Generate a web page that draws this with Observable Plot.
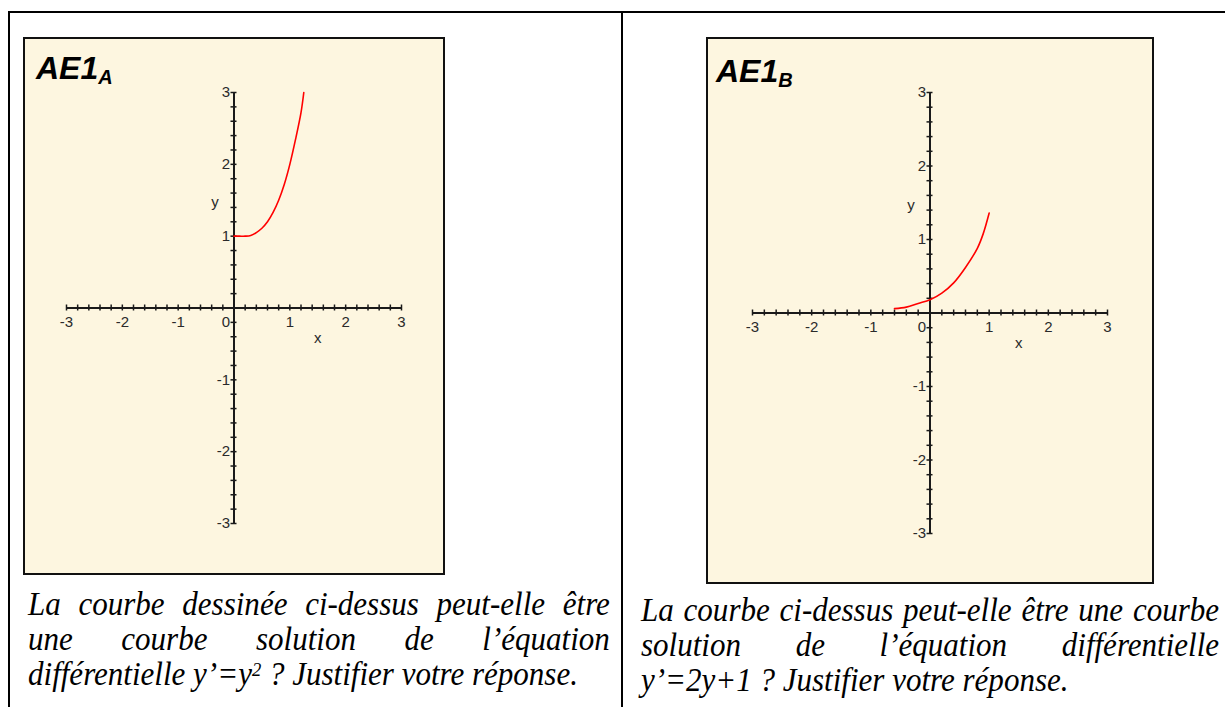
<!DOCTYPE html>
<html>
<head>
<meta charset="utf-8">
<script src="https://cdn.jsdelivr.net/npm/d3@7"></script>
<script src="https://cdn.jsdelivr.net/npm/@observablehq/plot@0.6"></script>
<style>
  html, body { margin: 0; padding: 0; background: #fff; }
  #page { position: relative; width: 1225px; height: 707px; overflow: hidden; background: #fff; }
  .hline, .vline { position: absolute; background: #000; }
  .box { position: absolute; background: #FDF6E0; border: 2px solid #111; box-sizing: border-box; }
  .box svg { position: absolute; left: 0; top: 0; }
  .title { position: absolute; font-family: "Liberation Sans", Arial, sans-serif; font-weight: bold; font-style: italic;
           font-size: 32px; line-height: 32px; color: #000; white-space: nowrap; }
  .title sub { font-size: 20px; vertical-align: baseline; position: relative; top: 5px; }
  .para { position: absolute; font-family: "Liberation Serif", "Times New Roman", serif; font-style: italic;
          font-size: 33px; color: #000; transform: scaleX(0.94); transform-origin: 0 0; }
  .para .ln { height: 35px; line-height: 35px; white-space: nowrap; text-align: justify; text-align-last: justify; }
  .para .ln.last { text-align: left; text-align-last: left; }
  .para sup { font-size: 0.6em; vertical-align: baseline; position: relative; top: -0.45em; }
</style>
</head>
<body>
<div id="page">
  <div class="hline" style="left:8px; top:11px; width:1217px; height:2px;"></div>
  <div class="vline" style="left:8px; top:11px; width:2px; height:700px;"></div>
  <div class="vline" style="left:621px; top:11px; width:2px; height:700px;"></div>

  <div class="box" id="boxA" style="left:23px; top:37px; width:422px; height:538px;">
    <div class="title" style="left:11px; top:13px;">AE1<sub>A</sub></div>
  </div>
  <div class="box" id="boxB" style="left:706px; top:37px; width:448px; height:547px;">
    <div class="title" style="left:8px; top:16px;">AE1<sub>B</sub></div>
  </div>

  <div class="para" style="left:28px; top:587px; width:619px;">
    <div class="ln">La courbe dessinée ci-dessus peut-elle être</div>
    <div class="ln">une courbe solution de l’équation</div>
    <div class="ln last">différentielle y’=y<sup>2</sup> ? Justifier votre réponse.</div>
  </div>
  <div class="para" style="left:641px; top:593px; width:615px;">
    <div class="ln">La courbe ci-dessus peut-elle être une courbe</div>
    <div class="ln">solution de l’équation différentielle</div>
    <div class="ln last">y’=2y+1 ? Justifier votre réponse.</div>
  </div>
</div>

<script>
// ---- data ----
const axisDomain = [-3, 3];
const majorTicks = [-3, -2, -1, 0, 1, 2, 3];
const tickLabels = ["-3", "-2", "-1", "0", "1", "2", "3"];
const minorStep = 0.2;

// Panel A: curve
const curveA_x = [0, 0.1, 0.2, 0.3, 0.4, 0.5, 0.6, 0.7, 0.8, 0.9, 1.0, 1.1, 1.2, 1.25];
const curveA_y = [1.0, 1.0, 1.0, 1.01, 1.05, 1.11, 1.2, 1.33, 1.5, 1.72, 2.0, 2.34, 2.72, 3.0];

// Panel B: curve
const curveB_x = [-0.6, -0.4, -0.2, 0, 0.2, 0.4, 0.6, 0.8, 0.9, 1.0];
const curveB_y = [0.06, 0.08, 0.13, 0.18, 0.27, 0.41, 0.62, 0.88, 1.08, 1.36];

// ---- drawing ----
function minorTicks() {
  const n = Math.round((axisDomain[1] - axisDomain[0]) / minorStep);
  return d3.range(n + 1).map(i => +(axisDomain[0] + i * minorStep).toFixed(6));
}

function panel({width, height, mL, mR, mT, mB, xs, ys}) {
  const kx = (width - mL - mR) / (axisDomain[1] - axisDomain[0]);
  const ky = (height - mT - mB) / (axisDomain[1] - axisDomain[0]);
  const th = 3; // tick half length (px)
  const ink = "#1a1a1a";
  const lab = "#2a2a2a";
  const fs = 15;
  const ticks = minorTicks();
  const data = xs.map((x, i) => ({x, y: ys[i]}));
  const labels = majorTicks.map((v, i) => ({v, t: tickLabels[i]}));
  return Plot.plot({
    width, height,
    marginLeft: mL, marginRight: mR, marginTop: mT, marginBottom: mB,
    x: {domain: axisDomain, axis: null},
    y: {domain: axisDomain, axis: null},
    style: {background: "transparent", fontFamily: "Liberation Sans, Arial, sans-serif", fontSize: "15px", color: lab},
    marks: [
      Plot.ruleY([0], {x1: axisDomain[0], x2: axisDomain[1], stroke: ink, strokeWidth: 2}),
      Plot.ruleX([0], {y1: axisDomain[0], y2: axisDomain[1], stroke: ink, strokeWidth: 2}),
      Plot.ruleX(ticks, {x: d => d, y1: -th / ky, y2: th / ky, stroke: ink, strokeWidth: 1.5}),
      Plot.ruleY(ticks, {y: d => d, x1: -th / kx, x2: th / kx, stroke: ink, strokeWidth: 1.5}),
      Plot.text(labels, {filter: d => d.v !== 0, x: "v", y: 0, text: "t", dy: 14, fontSize: fs, fill: lab}),
      Plot.text(labels, {filter: d => d.v === 0, x: "v", y: 0, text: "t", dy: 14, dx: -8, fontSize: fs, fill: lab}),
      Plot.text(labels, {filter: d => d.v !== 0, x: 0, y: "v", text: "t", dx: -4, textAnchor: "end", fontSize: fs, fill: lab}),
      Plot.text(["x"], {x: axisDomain[1] / 2, y: 0, text: d => d, dy: 30, fontSize: fs, fill: lab}),
      Plot.text(["y"], {x: 0, y: axisDomain[1] / 2, text: d => d, dx: -19, dy: 2, fontSize: fs, fill: lab}),
      Plot.line(data, {x: "x", y: "y", stroke: "#ff0000", strokeWidth: 1.6, curve: "catmull-rom"})
    ]
  });
}

document.getElementById("boxA").appendChild(panel({
  width: 418, height: 534, mL: 41, mR: 42, mT: 53, mB: 50,
  xs: curveA_x, ys: curveA_y
}));
document.getElementById("boxB").appendChild(panel({
  width: 444, height: 543, mL: 44, mR: 45, mT: 53, mB: 49,
  xs: curveB_x, ys: curveB_y
}));
</script>
</body>
</html>
